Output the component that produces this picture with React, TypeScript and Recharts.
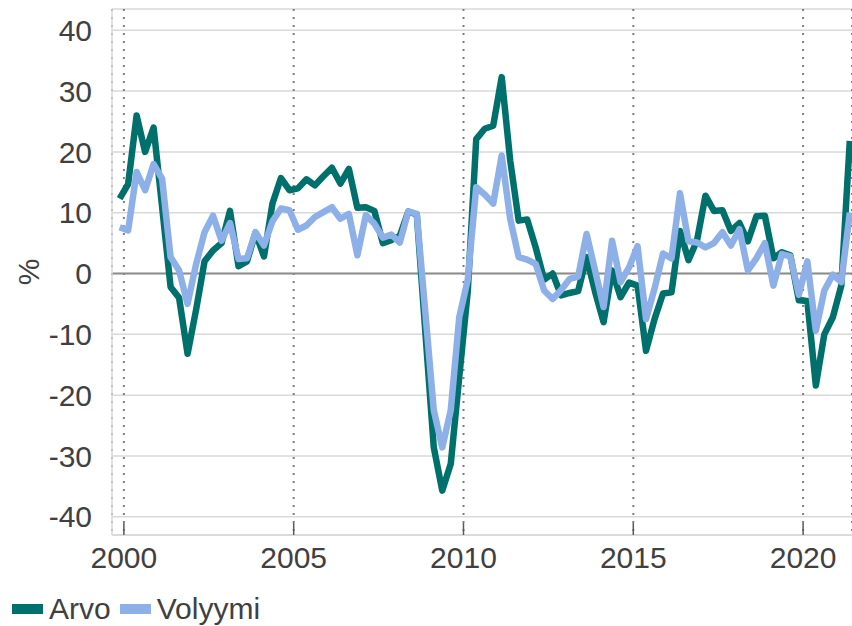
import {
  LineChart,
  Line,
  XAxis,
  YAxis,
  CartesianGrid,
  ReferenceLine,
  Legend,
} from "recharts";

// quarterly series, 1999Q4 .. 2021Q2, annual change %
const FIRST_YEAR = 1999;
const FIRST_QUARTER = 4;

const arvo = [
  12.3, 14.7, 26, 20, 24, 11, -2.2, -4, -13.2, -6, 2, 3.8, 5, 10.3, 1.2, 2,
  6.7, 2.8, 11.5, 15.7, 13.7, 14, 15.5, 14.5, 16, 17.4, 14.8, 17.2, 10.8, 10.9,
  10.3, 5, 5.5, 6.2, 10.2, 9.7, -9.5, -28.6, -35.7, -31.3, -17, -3, 22.1, 23.8,
  24.3, 32.3, 18.6, 8.7, 8.9, 4.3, -1, 0, -3.6, -3.2, -2.9, 2.7, -3, -8, 0.5,
  -3.9, -1.5, -2, -12.7, -7.5, -3.3, -3.1, 7, 2.2, 5.4, 12.8, 10.3, 10.4, 7,
  8.3, 5.3, 9.4, 9.5, 2.5, 3.5, 3, -4.4, -4.5, -18.4, -10, -7.2, -2, 21.8,
];

const volyymi = [
  7.6, 7.1, 16.7, 13.7, 18, 15.6, 2.7, 0.5, -5, 1.5, 6.8, 9.5, 5.4, 8.3, 2.4,
  2.5, 6.8, 4.6, 8.6, 10.7, 10.4, 7.2, 7.9, 9.3, 10.1, 10.9, 9, 9.8, 3, 9.6,
  8.2, 5.9, 6.4, 5.1, 10.2, 9.8, -6.3, -22.5, -28.6, -22.5, -7.2, -1, 14.2, 13,
  11.5, 19.4, 9, 2.7, 2.3, 1.6, -2.8, -4.2, -2.7, -0.9, -0.5, 6.5, 0.5, -5.5,
  5.4, -1.4, 1, 4.5, -7.5, -2.5, 3.3, 2.5, 13.2, 5.3, 5.1, 4.3, 5, 6.8, 4.6,
  7.3, 0.5, 2.5, 5, -2, 3.2, 2.8, -3.5, 2, -9.4, -2.8, -0.2, -1.4, 10,
];

const yearTicks = [2000, 2005, 2010, 2015, 2020];
const valueTicks = [-40, -30, -20, -10, 0, 10, 20, 30, 40];

const TEAL = "#00706c";
const BLUE = "#8db0e8";
const TEXT = "#404040";

// points sit in the middle of their quarter
const data = arvo.map((a, i) => {
  const q = FIRST_QUARTER - 1 + i;
  const year = FIRST_YEAR + Math.floor(q / 4);
  const quarter = (q % 4) + 1;
  return {
    label: `${year}Q${quarter}`,
    t: year + (quarter - 1) / 4 + 0.125,
    arvo: a,
    volyymi: volyymi[i],
  };
});

function YearTick({ x, y, payload }: any) {
  return (
    <g>
      <line x1={x} x2={x} y1={y - 12} y2={y} stroke="#595959" strokeWidth={1.5} />
      <text x={x} y={y + 33} textAnchor="middle" fill={TEXT} fontSize={30}>
        {payload.value}
      </text>
    </g>
  );
}

function LegendRow({ payload }: any) {
  return (
    <div
      style={{
        display: "flex",
        alignItems: "center",
        height: 34,
        lineHeight: "34px",
        paddingLeft: 12,
        fontSize: 30,
        color: TEXT,
      }}
    >
      {(payload ?? []).map((p: any) => (
        <span
          key={p.value}
          style={{ display: "flex", alignItems: "center", marginRight: 9 }}
        >
          <span
            style={{
              display: "inline-block",
              width: 31,
              height: 10,
              background: p.color,
              marginRight: 6,
            }}
          />
          {p.value}
        </span>
      ))}
    </div>
  );
}

export default function App() {
  return (
    <div
      style={{
        position: "absolute",
        left: 0,
        top: 0,
        width: 852,
        height: 626,
        background: "#fff",
        fontFamily: '"Liberation Sans", Arial, sans-serif',
      }}
    >
      <LineChart
        width={852}
        height={626}
        data={data}
        margin={{ top: 9, right: 0, bottom: 0, left: 0 }}
      >
        <CartesianGrid vertical={false} stroke="#d9d9d9" strokeWidth={1.5} />
        <CartesianGrid
          horizontal={false}
          stroke="#7f7f7f"
          strokeWidth={2}
          strokeDasharray="2 6"
        />
        <XAxis
          dataKey="t"
          type="number"
          domain={[1999.65, 2021.44]}
          ticks={yearTicks}
          allowDataOverflow
          height={57}
          axisLine={{ stroke: "#d9d9d9", strokeWidth: 1.5 }}
          tickLine={false}
          tickSize={0}
          tickMargin={0}
          tick={<YearTick />}
          interval={0}
        />
        <YAxis
          type="number"
          domain={[-43, 43.5]}
          ticks={valueTicks}
          width={112}
          axisLine={{ stroke: "#d9d9d9", strokeWidth: 1.5 }}
          tickLine={false}
          tickSize={0}
          tickMargin={20}
          tick={{ fill: TEXT, fontSize: 30 }}
          interval={0}
          label={({ viewBox }: any) => {
            const cy = viewBox.y + viewBox.height / 2;
            return (
              <text
                x={28}
                y={cy}
                transform={`rotate(-90 28 ${cy})`}
                textAnchor="middle"
                dominantBaseline="central"
                fill={TEXT}
                fontSize={30}
              >
                %
              </text>
            );
          }}
        />
        <ReferenceLine y={0} stroke="#8c8c8c" strokeWidth={2} />
        <Legend
          verticalAlign="bottom"
          align="left"
          height={34}
          content={<LegendRow />}
        />
        <Line
          type="linear"
          dataKey="arvo"
          name="Arvo"
          stroke={TEAL}
          strokeWidth={6.5}
          strokeLinejoin="round"
          dot={false}
          isAnimationActive={false}
        />
        <Line
          type="linear"
          dataKey="volyymi"
          name="Volyymi"
          stroke={BLUE}
          strokeWidth={6.5}
          strokeLinejoin="round"
          dot={false}
          isAnimationActive={false}
        />
      </LineChart>
    </div>
  );
}
